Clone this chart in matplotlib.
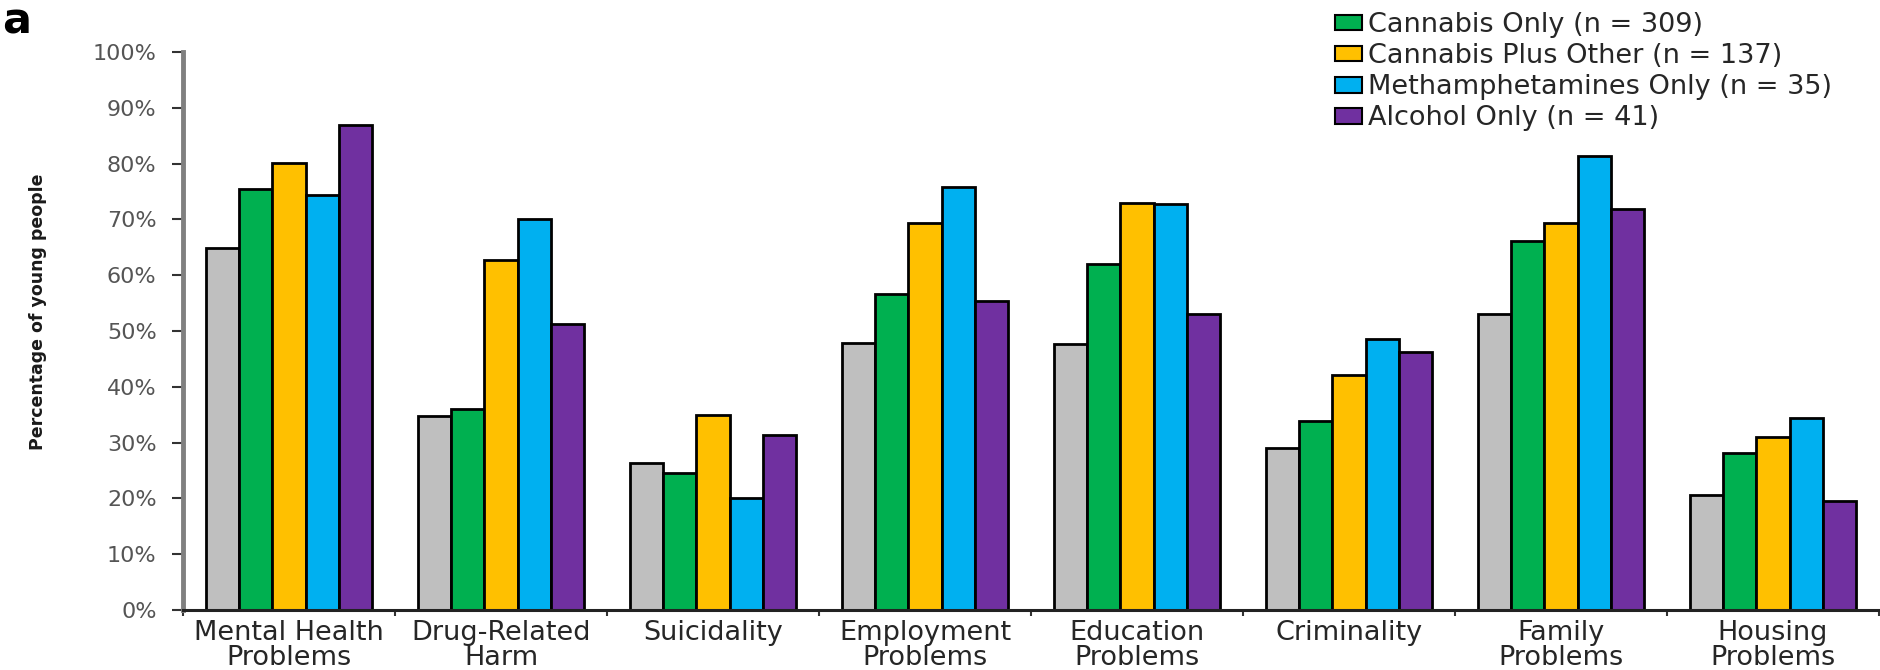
import matplotlib
matplotlib.use("Agg")
import matplotlib.pyplot as plt
from matplotlib.patches import Patch
import numpy as np

categories = ["Mental Health\nProblems", "Drug-Related\nHarm", "Suicidality",
              "Employment\nProblems", "Education\nProblems", "Criminality",
              "Family\nProblems", "Housing\nProblems"]

# gray series has no visible legend entry (cut off at the top of the figure)
all_young = [64.8, 34.7, 26.4, 47.8, 47.6, 29.0, 53.0, 20.6]
cannabis_only = [75.5, 36.0, 24.5, 56.7, 62.0, 33.9, 66.2, 28.1]
cannabis_plus = [80.1, 62.8, 34.9, 69.3, 73.0, 42.2, 69.4, 31.0]
meth_only = [74.3, 70.0, 20.0, 75.8, 72.7, 48.5, 81.4, 34.4]
alcohol_only = [87.0, 51.3, 31.3, 55.4, 53.0, 46.3, 71.9, 19.5]

series = [all_young, cannabis_only, cannabis_plus, meth_only, alcohol_only]
labels = [None, "Cannabis Only (n = 309)", "Cannabis Plus Other (n = 137)",
          "Methamphetamines Only (n = 35)", "Alcohol Only (n = 41)"]
colors = ["#BFBFBF", "#00B050", "#FFC000", "#00B0F0", "#7030A0"]

yticks = list(range(0, 101, 10))

plt.rcParams['font.family'] = ['DejaVu Sans']

fig = plt.figure(figsize=(18.8, 6.7), dpi=100)
ax = fig.add_axes([183 / 1880, 1 - 610 / 670, 1696 / 1880, 558 / 670])

x = np.arange(len(categories))
w = 0.156
for k, vals in enumerate(series):
    ax.bar(x + (k - 2) * w, vals, width=w, color=colors[k],
           edgecolor="black", linewidth=2, zorder=2)

ax.set_xlim(-0.5, len(categories) - 0.5)
ax.set_ylim(0, 100)

ax.set_yticks(yticks)
ax.set_yticklabels([f"{t}%" for t in yticks], fontsize=16, color="#555555")
ax.tick_params(axis="y", length=8, width=1.5, color="#333333", pad=11)

ax.set_xticks(x)
ax.set_xticklabels(categories, fontsize=19.5, color="#262626", linespacing=0.95)
ax.set_xticks(np.arange(-0.5, len(categories)), minor=True)
ax.tick_params(axis="x", which="major", length=0, pad=7)
ax.tick_params(axis="x", which="minor", length=4, width=1.5, color="#333333")

for s in ["top", "right"]:
    ax.spines[s].set_visible(False)
ax.spines["left"].set_color("#808080")
ax.spines["left"].set_linewidth(3.5)
ax.spines["bottom"].set_color("#222222")
ax.spines["bottom"].set_linewidth(2.2)

fig.text(38 / 1880, 1 - (52 + 558 * 0.465) / 670, "Percentage of young people",
         rotation=90, ha="center", va="center", fontsize=12.5,
         fontweight="bold", color="#1a1a1a")

fig.text(2 / 1880, 1 - 34 / 670, "a", fontsize=31, fontweight="bold",
         ha="left", va="baseline")

handles = [Patch(facecolor=colors[k], edgecolor="black", linewidth=1.5, label=labels[k])
           for k in range(1, 5)]
fig.legend(handles=handles, loc="upper left",
           bbox_to_anchor=(1335 / 1880, 1 - 12 / 670), frameon=False,
           fontsize=19.5, handlelength=1.0, handleheight=0.52, handletextpad=0.22,
           labelspacing=0.19, borderpad=0, borderaxespad=0, labelcolor="#262626")

fig.savefig("out.png", dpi=100)
